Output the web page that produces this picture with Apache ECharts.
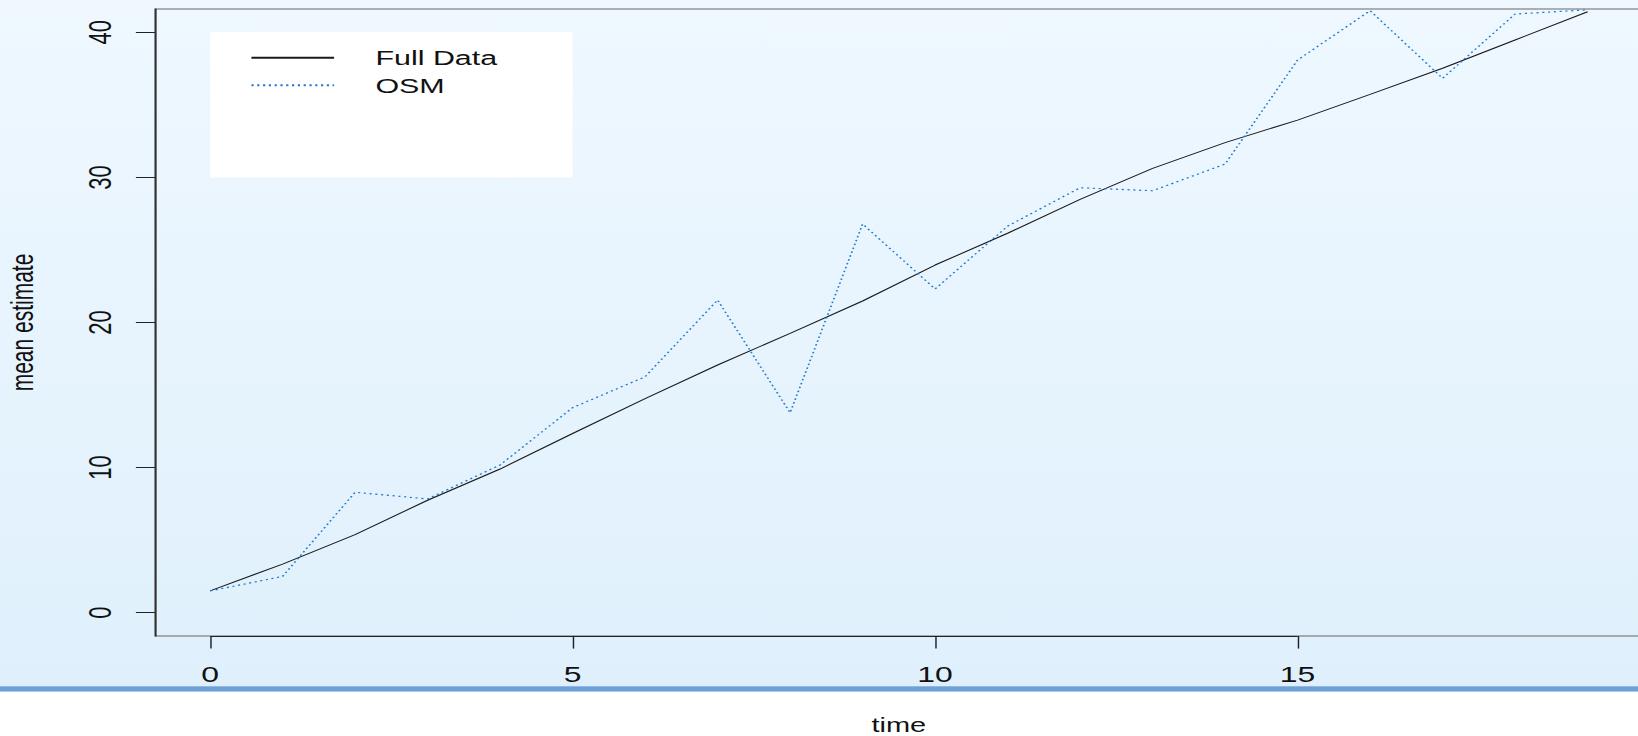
<!DOCTYPE html>
<html>
<head>
<meta charset="utf-8">
<title>mean estimate over time</title>
<script src="https://cdn.jsdelivr.net/npm/echarts@6/dist/echarts.min.js"></script>
<style>
  html, body { margin: 0; padding: 0; width: 1638px; height: 736px; overflow: hidden; background: #ffffff; }
  /* the plot is laid out on a narrower canvas and widened horizontally */
  #chart { width: 1133px; height: 736px; transform: scaleX(1.45); transform-origin: 0 0; }
</style>
</head>
<body>
<div id="chart"></div>
<script>
// time steps
const times = [0, 1, 2, 3, 4, 5, 6, 7, 8, 9, 10, 11, 12, 13, 14, 15, 16, 17, 18, 19];
// mean estimate using the full data
const fullData = [1.5, 3.35, 5.38, 7.75, 9.9, 12.35, 14.75, 17.07, 19.25, 21.48,
                  23.96, 26.15, 28.49, 30.62, 32.4, 33.95, 35.72, 37.52, 39.47, 41.42];
// mean estimate from OSM
const osmData = [1.5, 2.5, 8.3, 7.84, 10.18, 14.13, 16.26, 21.55, 13.78, 26.79,
                 22.31, 26.64, 29.29, 29.08, 30.92, 38.09, 41.49, 36.83, 41.26, 41.55];
// tick labels
const xTicks = [0, 5, 10, 15];
const yTicks = [0, 10, 20, 30, 40];
const seriesNames = ['Full Data', 'OSM'];

const FONT = "'Liberation Sans', Arial, Helvetica, sans-serif";
const INK = '#111111';

const chart = echarts.init(document.getElementById('chart'), null, { renderer: 'svg' });

chart.setOption({
  animation: false,
  backgroundColor: {
    type: 'linear', x: 0, y: 0, x2: 0, y2: 1,
    colorStops: [
      { offset: 0, color: '#eff8ff' },
      { offset: 0.932, color: '#dff0fc' },
      { offset: 0.932, color: '#b4cfee' },
      { offset: 0.9335, color: '#6f9fd8' },
      { offset: 0.939, color: '#6f9fd8' },
      { offset: 0.9398, color: '#c8ddf4' },
      { offset: 0.9398, color: '#ffffff' },
      { offset: 1, color: '#ffffff' }
    ]
  },
  textStyle: { fontFamily: FONT },
  grid: {
    left: 106.9, right: 0.1, top: 9.1, bottom: 100.1,
    show: true, borderColor: '#666666', borderWidth: 1, backgroundColor: 'transparent',
    outerBoundsMode: 'none'
  },
  legend: {
    data: seriesNames,
    orient: 'vertical',
    left: 172.4, top: 47.2,
    padding: 0,
    itemWidth: 57, itemHeight: 14, itemGap: 6.6,
    // line-only keys: the marker dot is made invisible
    itemStyle: { opacity: 0, borderWidth: 0 },
    textStyle: { fontSize: 21, lineHeight: 21, color: INK, fontFamily: FONT, padding: [0, 0, 0, 23.5] }
  },
  xAxis: {
    type: 'value', min: -0.76, max: 19.76,
    splitLine: { show: false },
    axisLine: { show: false, onZero: false },
    axisTick: { show: true, customValues: xTicks, length: 12.7, lineStyle: { color: '#222222', width: 1 } },
    axisLabel: { customValues: xTicks, fontSize: 22, margin: 27.4, color: INK, fontFamily: FONT },
    name: 'time', nameLocation: 'middle', nameGap: 79,
    nameTextStyle: { fontSize: 20, color: INK, fontFamily: FONT }
  },
  yAxis: {
    type: 'value', min: -1.6, max: 41.6,
    splitLine: { show: false },
    axisLine: { show: true, onZero: false, lineStyle: { color: '#222222', width: 1 } },
    axisTick: { show: true, customValues: yTicks, length: 13.2, lineStyle: { color: '#222222', width: 1 } },
    axisLabel: { customValues: yTicks, rotate: 90, fontSize: 22, margin: 26.9, color: INK, fontFamily: FONT },
    name: 'mean estimate', nameLocation: 'middle', nameGap: 80.7, nameRotate: 90,
    nameTextStyle: { fontSize: 21, color: INK, fontFamily: FONT }
  },
  series: [
    {
      name: seriesNames[0], type: 'line', symbol: 'none', z: 3,
      data: times.map((t, i) => [t, fullData[i]]),
      lineStyle: { color: '#1a1a1a', width: 1 },
      itemStyle: { color: '#1a1a1a' },
      // white legend panel spanning x 0..5, y 30..40
      markArea: {
        silent: true,
        itemStyle: { color: '#ffffff', opacity: 1 },
        label: { show: false },
        data: [[{ coord: [0, 40] }, { coord: [5, 30] }]]
      },
      // axis segment between the first and last tick
      markLine: {
        silent: true, symbol: ['none', 'none'],
        label: { show: false },
        lineStyle: { color: '#222222', width: 1, type: 'solid' },
        data: [[{ coord: [xTicks[0], -1.6] }, { coord: [xTicks[xTicks.length - 1], -1.6] }]]
      }
    },
    {
      name: seriesNames[1], type: 'line', symbol: 'none', z: 4,
      data: times.map((t, i) => [t, osmData[i]]),
      lineStyle: { color: '#1f78d1', width: 1.2, type: [1.5, 2.5] },
      itemStyle: { color: '#1f78d1' }
    }
  ]
});
</script>
</body>
</html>
